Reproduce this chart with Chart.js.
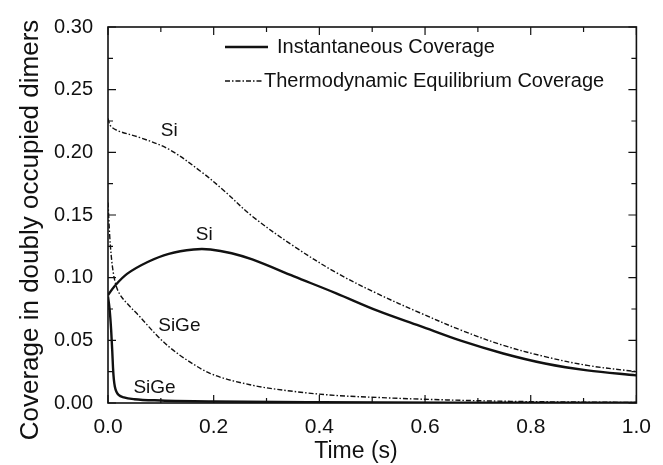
<!DOCTYPE html>
<html>
<head>
<meta charset="utf-8">
<script src="https://cdn.jsdelivr.net/npm/chart.js@4.4.1/dist/chart.umd.min.js"></script>
<style>
  html, body { margin: 0; padding: 0; background: #fff; }
</style>
</head>
<body>
<canvas id="chart" width="663" height="465"></canvas>
<script>
// time (s) and coverage values
const siTime = [0, 0.012, 0.036, 0.075, 0.115, 0.162, 0.194, 0.234, 0.273, 0.352, 0.432, 0.511, 0.59, 0.669, 0.748, 0.827, 0.907, 1.0];
const siInst = [0.086, 0.093, 0.103, 0.1125, 0.119, 0.1225, 0.1225, 0.1195, 0.1145, 0.101, 0.0875, 0.0735, 0.0615, 0.0495, 0.0395, 0.0315, 0.026, 0.022];

const siEqTime = [0, 0.005, 0.02, 0.059, 0.115, 0.178, 0.218, 0.273, 0.352, 0.432, 0.511, 0.59, 0.669, 0.748, 0.827, 0.907, 1.0];
const siEq = [0.227, 0.221, 0.217, 0.212, 0.2025, 0.184, 0.17, 0.149, 0.125, 0.104, 0.087, 0.072, 0.058, 0.046, 0.037, 0.03, 0.025];

const sigeTime = [0, 0.003, 0.006, 0.008, 0.0095, 0.011, 0.013, 0.016, 0.02, 0.03, 0.05, 0.1, 0.2, 0.4, 0.7, 1.0];
const sigeInst = [0.085, 0.075, 0.058, 0.042, 0.028, 0.019, 0.013, 0.009, 0.0065, 0.0045, 0.003, 0.002, 0.0012, 0.0006, 0.0003, 0.0002];

const sigeEqTime = [0, 0.003, 0.006, 0.01, 0.015, 0.022, 0.035, 0.06, 0.09, 0.115, 0.154, 0.194, 0.273, 0.352, 0.432, 0.511, 0.59, 0.748, 1.0];
const sigeEq = [0.16, 0.135, 0.118, 0.104, 0.094, 0.087, 0.08, 0.069, 0.055, 0.045, 0.033, 0.0235, 0.0142, 0.0092, 0.006, 0.0044, 0.0031, 0.0014, 0.0004];

const legendLabels = ["Instantaneous Coverage", "Thermodynamic Equilibrium Coverage"];

// curve labels, placed in data coordinates
const noteText = ["Si", "Si", "SiGe", "SiGe"];
const noteT = [0.116, 0.182, 0.135, 0.088];
const noteV = [0.217, 0.134, 0.062, 0.0125];

const FONT = "'Liberation Sans', Arial, sans-serif";
const INK = "#111";
const DASHDOT = [5, 2, 1.5, 2];

function pts(xs, ys) {
  return xs.map((x, i) => ({ x: x, y: ys[i] }));
}

function line(data, dashed, steep) {
  return {
    data: data,
    borderColor: INK,
    borderWidth: dashed ? 1.4 : 2.4,
    borderDash: dashed ? DASHDOT : [],
    pointRadius: 0,
    showLine: true,
    fill: false,
    tension: 0.35,
    cubicInterpolationMode: steep ? "monotone" : "default"
  };
}

// frame, inward ticks, legend, labels and axis titles
const decor = {
  id: "decor",
  afterDraw(chart) {
    const ctx = chart.ctx;
    const a = chart.chartArea;
    const xs = chart.scales.x, ys = chart.scales.y;
    ctx.save();
    ctx.strokeStyle = INK;
    ctx.lineWidth = 1.6;
    ctx.strokeRect(a.left, a.top, a.right - a.left, a.bottom - a.top);

    ctx.lineWidth = 1.2;
    for (let i = 0; i <= 12; i++) {
      const py = ys.getPixelForValue(i * 0.025);
      const len = i % 2 === 0 ? 8 : 5;
      ctx.beginPath();
      ctx.moveTo(a.left, py); ctx.lineTo(a.left + len, py);
      ctx.moveTo(a.right, py); ctx.lineTo(a.right - len, py);
      ctx.stroke();
    }
    for (let i = 0; i <= 10; i++) {
      const px = xs.getPixelForValue(i * 0.1);
      const len = i % 2 === 0 ? 8 : 5;
      ctx.beginPath();
      ctx.moveTo(px, a.bottom); ctx.lineTo(px, a.bottom - len);
      ctx.moveTo(px, a.top); ctx.lineTo(px, a.top + len);
      ctx.stroke();
    }

    // legend
    ctx.font = "20px " + FONT;
    ctx.fillStyle = INK;
    ctx.textBaseline = "middle";
    ctx.textAlign = "left";
    ctx.lineWidth = 2.4;
    ctx.beginPath(); ctx.moveTo(225, 47); ctx.lineTo(268, 47); ctx.stroke();
    ctx.fillText(legendLabels[0], 277, 47);
    ctx.lineWidth = 1.4;
    ctx.setLineDash(DASHDOT);
    ctx.beginPath(); ctx.moveTo(225, 81); ctx.lineTo(262, 81); ctx.stroke();
    ctx.setLineDash([]);
    ctx.fillText(legendLabels[1], 264, 81);

    // curve labels
    ctx.font = "19px " + FONT;
    ctx.textAlign = "center";
    noteText.forEach((t, i) => {
      ctx.fillText(t, xs.getPixelForValue(noteT[i]), ys.getPixelForValue(noteV[i]));
    });

    // axis titles
    ctx.font = "23px " + FONT;
    ctx.fillText("Time (s)", 356, 452);
    ctx.translate(31, 230);
    ctx.rotate(-Math.PI / 2);
    ctx.font = "26px " + FONT;
    ctx.fillText("Coverage in doubly occupied dimers", 0, 0);
    ctx.restore();
  }
};

new Chart(document.getElementById("chart"), {
  type: "scatter",
  data: {
    datasets: [
      line(pts(siTime, siInst), false, false),
      line(pts(siEqTime, siEq), true, false),
      line(pts(sigeTime, sigeInst), false, true),
      line(pts(sigeEqTime, sigeEq), true, true)
    ]
  },
  options: {
    responsive: false,
    devicePixelRatio: 1,
    animation: false,
    layout: { padding: { left: 0, right: 22, top: 22, bottom: 0 } },
    plugins: { legend: { display: false }, tooltip: { enabled: false } },
    scales: {
      x: {
        type: "linear",
        min: 0,
        max: 1,
        grid: { display: false, drawTicks: false },
        border: { display: false },
        ticks: {
          stepSize: 0.2,
          padding: 12,
          color: INK,
          font: { family: FONT, size: 21 },
          callback: v => v.toFixed(1)
        },
        afterFit: s => { s.height = 62; }
      },
      y: {
        min: 0,
        max: 0.3,
        grid: { display: false, drawTicks: false },
        border: { display: false },
        ticks: {
          stepSize: 0.05,
          padding: 15,
          color: INK,
          font: { family: FONT, size: 20 },
          callback: v => v.toFixed(2)
        },
        afterFit: s => { s.width = 108; }
      }
    }
  },
  plugins: [decor]
});
</script>
</body>
</html>
